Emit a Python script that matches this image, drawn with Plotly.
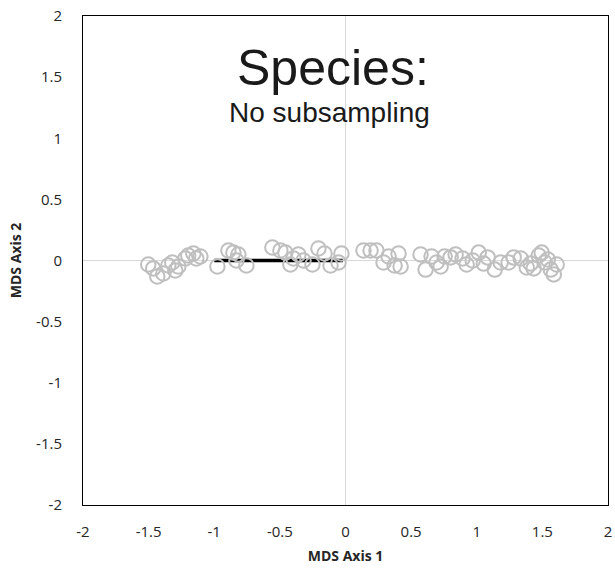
import plotly.graph_objects as go

# MDS coordinates of species
mds_x = [-1.503, -1.465, -1.434, -1.388, -1.350, -1.320, -1.297, -1.274, -1.220, -1.198,
         -1.159, -1.137, -1.106, -0.976, -0.892, -0.854, -0.816, -0.831, -0.755, -0.557,
         -0.496, -0.458, -0.420, -0.397, -0.359, -0.320, -0.252, -0.206, -0.160, -0.114,
         -0.053, -0.031, 0.137, 0.191, 0.236, 0.290, 0.328, 0.374, 0.404, 0.420,
         0.572, 0.610, 0.656, 0.694, 0.725, 0.755, 0.801, 0.839, 0.892, 0.923,
         0.969, 1.015, 1.053, 1.083, 1.137, 1.182, 1.243, 1.281, 1.335, 1.381,
         1.411, 1.434, 1.472, 1.495, 1.518, 1.541, 1.564, 1.587, 1.609]
mds_y = [-0.033, -0.065, -0.131, -0.106, -0.041, -0.016, -0.082, -0.049, 0.016, 0.041,
         0.057, 0.016, 0.033, -0.049, 0.082, 0.065, 0.049, 0.000, -0.041, 0.106,
         0.082, 0.065, -0.033, 0.016, 0.049, 0.000, -0.033, 0.098, 0.057, -0.041,
         -0.016, 0.057, 0.082, 0.082, 0.082, -0.016, 0.033, -0.041, 0.057, -0.049,
         0.049, -0.074, 0.033, -0.016, -0.049, 0.033, 0.025, 0.049, 0.016, -0.033,
         0.000, 0.065, -0.025, 0.025, -0.074, -0.016, -0.016, 0.025, 0.016, -0.057,
         -0.025, -0.065, 0.041, 0.065, -0.016, 0.008, -0.074, -0.114, -0.033]

# black segment
line_x = [-1.0, -0.02]
line_y = [0.0, 0.0]

tick_vals = [-2, -1.5, -1, -0.5, 0, 0.5, 1, 1.5, 2]
tick_text = ["-2", "-1.5", "-1", "-0.5", "0", "0.5", "1", "1.5", "2"]

title_main = "Species:"
title_sub = "No subsampling"
x_title = "MDS Axis 1"
y_title = "MDS Axis 2"

fig = go.Figure()
fig.add_trace(go.Scatter(x=line_x, y=line_y, mode="lines",
                         line=dict(color="black", width=3.5), showlegend=False))
fig.add_trace(go.Scatter(x=mds_x, y=mds_y, mode="markers",
                         marker=dict(symbol="circle-open", size=14.5, color="#BFBFBF",
                                     line=dict(width=2, color="#BFBFBF")),
                         showlegend=False))

axis_common = dict(range=[-2, 2], tickvals=tick_vals, ticktext=tick_text, automargin=False,
                   showgrid=False, zeroline=True, zerolinecolor="#D9D9D9", zerolinewidth=1,
                   showline=True, mirror=True, linecolor="black", linewidth=1,
                   ticks="", tickfont=dict(family="Open Sans", size=15, color="#262626"))

fig.update_xaxes(**axis_common, ticklabelstandoff=13,
                 title=dict(text="<b>" + x_title + "</b>",
                            font=dict(family="Open Sans", size=14, color="#262626"),
                            standoff=11))
fig.update_yaxes(**axis_common, ticklabelstandoff=17,
                 title=dict(text="<b>" + y_title + "</b>",
                            font=dict(family="Open Sans", size=14, color="#262626"),
                            standoff=11))

fig.add_annotation(text=title_main, xref="paper", yref="paper", x=0.476, y=0.893,
                   xanchor="center", yanchor="middle",
                   showarrow=False, font=dict(family="Liberation Sans", size=50, color="#1a1a1a"))
fig.add_annotation(text=title_sub, xref="paper", yref="paper", x=0.470, y=0.803,
                   xanchor="center", yanchor="middle",
                   showarrow=False, font=dict(family="Liberation Sans", size=28, color="#1a1a1a"))

fig.update_layout(width=615, height=572, margin=dict(l=83, r=7, t=16, b=67),
                  plot_bgcolor="white", paper_bgcolor="white")

fig.write_html("out.html")
